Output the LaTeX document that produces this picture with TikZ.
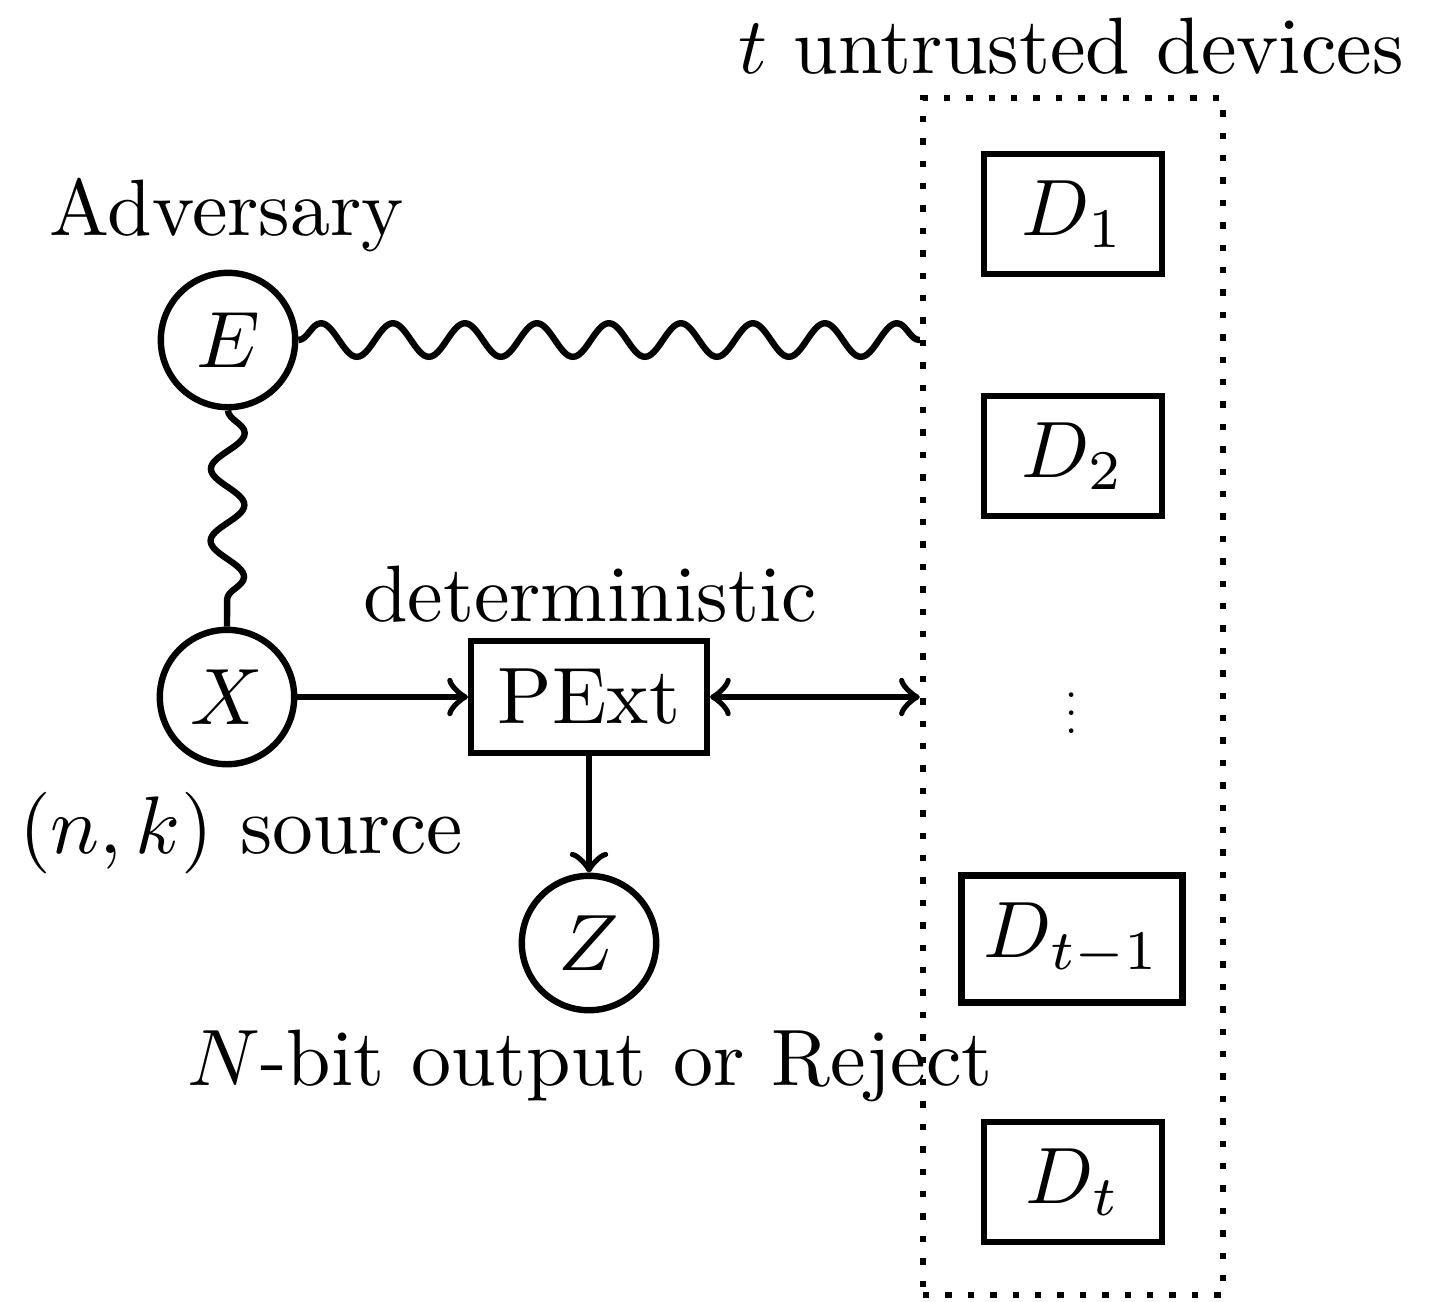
\documentclass[tikz,border=0pt]{standalone}
\usetikzlibrary{decorations.pathmorphing}
\begin{document}
\begin{tikzpicture}[x=0.125pt,y=-0.125pt,
  every path/.style={line width=0.8pt},
  circ/.style={draw,circle,line width=0.8pt,minimum size=16.8pt,inner sep=0pt},
  devbox/.style={draw,rectangle,line width=0.8pt,minimum width=22.2pt,minimum height=14pt,inner xsep=2.8pt},
  procbox/.style={draw,rectangle,line width=0.8pt,minimum height=14pt,inner xsep=3.33pt},
  wavy/.style={decorate,decoration={snake,amplitude=2.1pt,segment length=9pt}},
  lbl/.style={anchor=base,inner sep=0pt}]
\useasboundingbox (0,0) rectangle (1438,1301);
% container
\node[draw,dotted,line width=0.8pt,minimum width=37.5pt,minimum height=149.6pt,inner sep=0pt] (devs) at (1073,696.5) {};
\node[lbl] (devlbl) at (1071,73) {$t$ untrusted devices};
% devices
\node[devbox] (D1) at (1073,214) {$D_1$};
\node[devbox] (D2) at (1073,456) {$D_2$};
\node[inner sep=0pt,scale=0.55] (vd) at (1072,700) {$\vdots$};
\node[devbox] (Dtm) at (1072,939) {$D_{t-1}$};
\node[devbox] (Dt) at (1073,1182) {$D_t$};
% left part
\node[circ] (E) at (228,340) {$E$};
\node[lbl] (advlbl) at (227,235) {Adversary};
\node[circ] (X) at (227,697) {$X$};
\node[lbl,scale=1.02] (srclbl) at (241,853) {$(n,k)$ source};
\node[procbox] (P) at (589,697) {PExt};
\node[lbl] (detlbl) at (590,621) {deterministic};
\node[circ] (Z) at (589,943) {$Z$};
\node[lbl] (outlbl) at (590,1085) {$N$-bit output or Reject};
% connectors
\draw[wavy] (E.east) -- (E -| devs.west);
\draw[wavy] (E.south) -- (X.north);
\draw[->] (X.east) -- (P.west);
\draw[<->] (P.east) -- (P -| devs.west);
\draw[->] (P.south) -- (Z.north);
\end{tikzpicture}
\end{document}
